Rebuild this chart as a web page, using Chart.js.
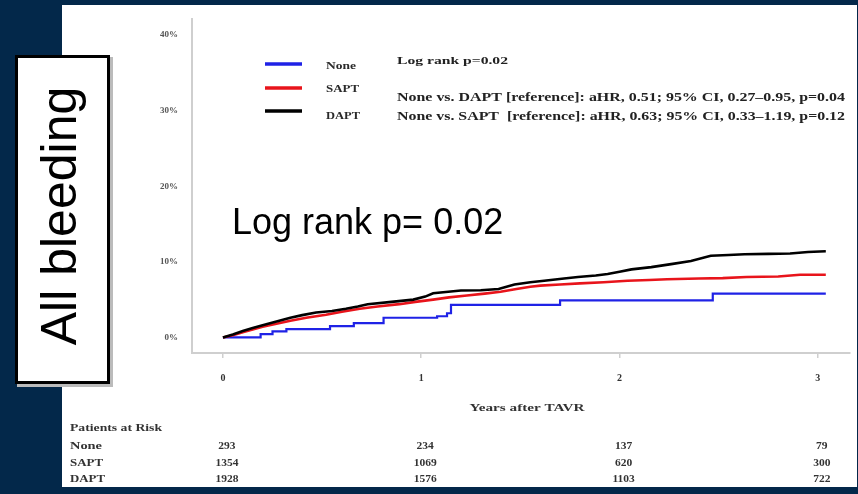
<!DOCTYPE html>
<html><head><meta charset="utf-8">
<script src="https://cdn.jsdelivr.net/npm/chart.js@4/dist/chart.umd.min.js"></script>
<style>html,body{margin:0;padding:0;background:#03284a;overflow:hidden}</style>
</head><body>
<canvas id="c" width="858" height="494"></canvas>
<script>
// ---- data ----
const xYears = [0, 1, 2, 3];
const yTickValues = [0, 10, 20, 30, 40];
const seriesNames = ['None', 'SAPT', 'DAPT'];
const seriesColors = ['#1f22e6', '#e8141b', '#000000'];
// cumulative incidence (%) by years after TAVR
const noneCurve = [[0,0],[0.19,0.45],[0.25,0.8],[0.32,1.1],[0.54,1.5],[0.66,1.9],[0.81,2.6],[1.08,2.8],[1.13,3.2],[1.15,4.3],[1.70,4.9],[2.47,5.8],[3.04,5.8]];
const saptCurve = [[0,0],[0.05,0.3],[0.1,0.7],[0.15,1.05],[0.2,1.4],[0.27,1.8],[0.34,2.2],[0.42,2.6],[0.52,3.0],[0.6,3.4],[0.69,3.8],[0.78,4.1],[0.89,4.4],[0.97,4.7],[1.06,5.0],[1.14,5.3],[1.23,5.55],[1.32,5.8],[1.40,6.05],[1.48,6.4],[1.55,6.7],[1.6,6.85],[1.7,7.0],[1.8,7.15],[1.92,7.3],[2.04,7.5],[2.15,7.6],[2.24,7.7],[2.4,7.8],[2.52,7.85],[2.64,8.0],[2.8,8.05],[2.91,8.3],[3.04,8.3]];
const daptCurve = [[0,0],[0.05,0.4],[0.1,0.85],[0.15,1.25],[0.2,1.6],[0.27,2.1],[0.34,2.6],[0.4,2.95],[0.47,3.3],[0.55,3.5],[0.62,3.8],[0.68,4.1],[0.73,4.4],[0.85,4.7],[0.96,5.0],[1.02,5.4],[1.06,5.85],[1.2,6.2],[1.3,6.25],[1.39,6.4],[1.47,7.0],[1.55,7.3],[1.62,7.5],[1.72,7.8],[1.79,8.0],[1.88,8.2],[1.94,8.4],[2.0,8.7],[2.06,9.0],[2.16,9.3],[2.26,9.7],[2.36,10.1],[2.46,10.8],[2.55,10.9],[2.63,11.0],[2.75,11.05],[2.86,11.1],[2.95,11.3],[3.04,11.4]];
const atRiskNone = [293, 234, 137, 79];
const atRiskSapt = [1354, 1069, 620, 300];
const atRiskDapt = [1928, 1576, 1103, 722];
const sideLabel = 'All bleeding';
const bigLabel = 'Log rank p= 0.02';
const annoLines = ['Log rank p=0.02', 'None vs. DAPT [reference]: aHR, 0.51; 95% CI, 0.27\u20130.95, p=0.04', 'None vs. SAPT  [reference]: aHR, 0.63; 95% CI, 0.33\u20131.19, p=0.12'];
const xTitle = 'Years after TAVR';
const riskTitle = 'Patients at Risk';

// ---- drawing ----
const NAVY = '#03284a';
const SERIF = '"Liberation Serif", "Times New Roman", serif';
function stext(ctx, s, x, y, size, width, align, color, family, weight) {
  ctx.save();
  ctx.font = (weight || 'bold') + ' ' + size + 'px ' + (family || SERIF);
  const w = ctx.measureText(s).width;
  const sx = width ? width / w : 1;
  ctx.translate(x, y);
  ctx.scale(sx, 1);
  ctx.textAlign = align || 'left';
  ctx.textBaseline = 'middle';
  ctx.fillStyle = color || '#222';
  ctx.fillText(s, 0, 0);
  ctx.restore();
}
const deco = {
  id: 'deco',
  beforeDraw(chart) {
    const ctx = chart.ctx;
    ctx.save();
    ctx.fillStyle = NAVY; ctx.fillRect(0, 0, 858, 494);
    ctx.fillStyle = '#ffffff'; ctx.fillRect(62, 5, 795, 482);
    ctx.restore();
  },
  afterDraw(chart) {
    const ctx = chart.ctx;
    const xs = chart.scales.x;
    // side label box
    ctx.save();
    ctx.fillStyle = '#bbb'; ctx.fillRect(17, 57, 96, 330);
    ctx.fillStyle = '#fff'; ctx.fillRect(15, 55, 95, 329);
    ctx.strokeStyle = '#000'; ctx.lineWidth = 3; ctx.strokeRect(16.5, 56.5, 92, 326);
    ctx.translate(62, 216); ctx.rotate(-Math.PI / 2);
    ctx.font = '50px "Liberation Sans", Arial, sans-serif';
    ctx.textAlign = 'center'; ctx.textBaseline = 'middle'; ctx.fillStyle = '#000';
    ctx.fillText(sideLabel, 0, 0);
    ctx.restore();
    // big log rank text
    ctx.save();
    ctx.font = '36px "Liberation Sans", Arial, sans-serif';
    ctx.fillStyle = '#000'; ctx.textBaseline = 'alphabetic'; ctx.textAlign = 'left';
    ctx.fillText(bigLabel, 232, 234);
    ctx.restore();
    // legend
    const legY = [64, 88, 111], labY = [66, 89, 116], labW = [30, 33, 34];
    seriesNames.forEach((n, i) => {
      ctx.save(); ctx.strokeStyle = seriesColors[i]; ctx.lineWidth = 3.5;
      ctx.beginPath(); ctx.moveTo(265, legY[i]); ctx.lineTo(302, legY[i]); ctx.stroke(); ctx.restore();
      stext(ctx, n, 326, labY[i], 10, labW[i], 'left', '#2a2a2a');
    });
    stext(ctx, annoLines[0], 397, 61, 11, 111, 'left', '#222');
    stext(ctx, annoLines[1], 397, 98, 12, 448, 'left', '#222');
    stext(ctx, annoLines[2], 397, 117, 12, 448, 'left', '#222');
    // axis title
    stext(ctx, xTitle, 527, 408, 10, 115, 'center', '#333');
    // risk table
    stext(ctx, riskTitle, 70, 428, 10, 92, 'left', '#333');
    const rows = [atRiskNone, atRiskSapt, atRiskDapt], rowY = [446, 463, 479], rowW = [32, 33, 35];
    rows.forEach((r, i) => {
      stext(ctx, seriesNames[i], 70, rowY[i], 10, rowW[i], 'left', '#333');
      r.forEach((v, j) => {
        ctx.save(); ctx.font = 'bold 10px ' + SERIF;
        const w = ctx.measureText(String(v)).width; ctx.restore();
        stext(ctx, String(v), xs.getPixelForValue(xYears[j]) + 4, rowY[i], 10, w * 1.15, 'center', '#333');
      });
    });
  }
};
const mk = arr => arr.map(p => ({x: p[0], y: p[1]}));
new Chart(document.getElementById('c'), {
  type: 'line',
  data: {
    datasets: [
      {label: seriesNames[0], data: mk(noneCurve), borderColor: seriesColors[0], borderWidth: 2.2, stepped: 'before', pointRadius: 0, fill: false, order: 3},
      {label: seriesNames[1], data: mk(saptCurve), borderColor: seriesColors[1], borderWidth: 2.6, tension: 0, pointRadius: 0, fill: false, order: 2},
      {label: seriesNames[2], data: mk(daptCurve), borderColor: seriesColors[2], borderWidth: 2.6, tension: 0, pointRadius: 0, fill: false, order: 1}
    ]
  },
  options: {
    responsive: false, animation: false, devicePixelRatio: 1,
    layout: {padding: {left: 0, top: 11, right: 8, bottom: 0}},
    plugins: {legend: {display: false}, tooltip: {enabled: false}},
    scales: {
      x: {
        type: 'linear', min: -0.156, max: 3.162,
        afterBuildTicks: s => { s.ticks = xYears.map(v => ({value: v})); },
        afterFit: s => { s.height = 141; },
        grid: {display: true, drawOnChartArea: false, drawTicks: true, tickLength: 5, color: '#cfcfcf', lineWidth: 1.5},
        border: {display: true, color: '#cfcfcf', width: 2},
        ticks: {padding: 14, color: '#333', font: {family: SERIF, size: 10, weight: 'bold'}, maxRotation: 0}
      },
      y: {
        type: 'linear', min: -2.06, max: 42.07,
        afterBuildTicks: s => { s.ticks = yTickValues.map(v => ({value: v})); },
        afterFit: s => { s.width = 192; },
        grid: {display: false, drawTicks: false},
        border: {display: true, color: '#cfcfcf', width: 2},
        ticks: {padding: 14, color: '#555', font: {family: SERIF, size: 9, weight: 'bold'}, callback: v => v + '%'}
      }
    }
  },
  plugins: [deco]
});
</script>
</body></html>
